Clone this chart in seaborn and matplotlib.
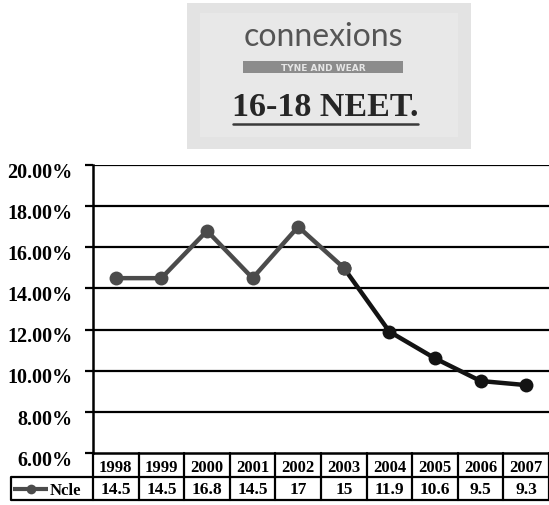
import matplotlib
matplotlib.use("Agg")
import matplotlib.pyplot as plt
import matplotlib.transforms as mtransforms
from matplotlib.patches import Rectangle
from matplotlib.lines import Line2D
import numpy as np
import pandas as pd
import seaborn as sns

# Data
years = ["1998", "1999", "2000", "2001", "2002", "2003", "2004", "2005", "2006", "2007"]
ncle = [14.5, 14.5, 16.8, 14.5, 17, 15, 11.9, 10.6, 9.5, 9.3]
value_labels = ["14.5", "14.5", "16.8", "14.5", "17", "15", "11.9", "10.6", "9.5", "9.3"]
series_name = "Ncle"
y_ticks = [6, 8, 10, 12, 14, 16, 18, 20]
split_year = "2003"

sns.set_theme(style="white")
plt.rcParams["font.family"] = ["Liberation Serif", "DejaVu Serif"]

W, H = 549, 506
fig = plt.figure(figsize=(W / 100, H / 100), dpi=100)
fig.patch.set_facecolor("white")

# overlay in pixel coordinates for the logo and the data table
over = fig.add_axes([0, 0, 1, 1], zorder=0)
over.set_xlim(0, W)
over.set_ylim(H, 0)
over.axis("off")

# main line chart
ax = fig.add_axes([93 / W, (H - 454) / H, (W - 93) / W, (454 - 166) / H], zorder=2)
ax.patch.set_alpha(0)

df = pd.DataFrame({"year": years, "value": ncle})
df["pos"] = np.arange(len(df))
k = years.index(split_year)
early = df.iloc[: k + 1]
late = df.iloc[k:]

grey = "#4b4b4b"
black = "#131313"

sns.lineplot(data=late, x="pos", y="value", color=black, lw=3.2, ax=ax,
             marker="o", markersize=10, markeredgewidth=0, zorder=3)
sns.lineplot(data=early, x="pos", y="value", color=grey, lw=3.2, ax=ax,
             marker="o", markersize=10, markeredgewidth=0, zorder=4)

ax.set_xlim(-0.5, len(years) - 0.5)
ax.set_ylim(min(y_ticks), max(y_ticks))
ax.set_yticks(y_ticks)
ax.set_yticklabels([f"{v:.2f}%" for v in y_ticks])
ax.set_xticks([])
ax.set_xlabel("")
ax.set_ylabel("")
ax.grid(False)
for v in y_ticks[1:]:
    ax.axhline(v, color="black", lw=1.6, zorder=1)
for s in ["top", "right"]:
    ax.spines[s].set_visible(False)
ax.spines["left"].set_color("black")
ax.spines["left"].set_linewidth(1.8)
ax.spines["bottom"].set_color("black")
ax.spines["bottom"].set_linewidth(1.8)
ax.tick_params(axis="y", direction="out", length=6, width=1.6, color="black",
               pad=9, labelsize=14.5, left=True)
for lab in ax.get_yticklabels():
    lab.set_fontweight("bold")
    lab.set_color("black")
    lab.set_transform(lab.get_transform() +
                      mtransforms.ScaledTranslation(0, -3 / 72, fig.dpi_scale_trans))

# data table beneath the chart
bt = mtransforms.blended_transform_factory(ax.transData, over.transData)
row_top, row_mid, row_bot = 454, 478, 501
lw_t = 1.6
over.plot([11, W], [row_mid, row_mid], color="black", lw=lw_t, solid_capstyle="butt")
over.plot([11, W], [row_bot, row_bot], color="black", lw=lw_t, solid_capstyle="butt")
over.plot([11, 11], [row_mid, row_bot], color="black", lw=lw_t)
for i in range(len(years) + 1):
    over.add_line(Line2D([i - 0.5, i - 0.5], [row_top, row_bot], color="black",
                         lw=lw_t, transform=bt))
for i, (yr, lbl) in enumerate(zip(years, value_labels)):
    over.text(i, (row_top + row_mid) / 2 + 2, yr, transform=bt, ha="center", va="center",
              fontsize=12, fontweight="bold", color="black")
    over.text(i, (row_mid + row_bot) / 2 + 1, lbl, transform=bt, ha="center", va="center",
              fontsize=12.5, fontweight="bold", color="black")

# legend key in the table
over.plot([13, 48], [490, 490], color=grey, lw=3, solid_capstyle="butt")
over.plot([31], [490], marker="o", color=grey, markersize=7, markeredgewidth=0)
over.text(50, 491, series_name, ha="left", va="center", fontsize=12,
          fontweight="bold", color="black")

# logo panel
over.add_patch(Rectangle((187, 4), 284, 146, facecolor="#e3e3e3", edgecolor="none"))
over.add_patch(Rectangle((200, 14), 258, 124, facecolor="#e8e8e8", edgecolor="none"))
over.text(323, 37, "connexions", ha="center", va="center", fontsize=23,
          family=["Lato", "DejaVu Sans"], fontweight="normal", color="#555555")
over.add_patch(Rectangle((243, 62), 160, 12, facecolor="#8c8c8c", edgecolor="none"))
over.text(323, 68.5, "TYNE AND WEAR", ha="center", va="center", fontsize=6.5,
          family=["DejaVu Sans"], fontweight="bold", color="#e6e6e6")
over.text(325, 107, "16-18 NEET.", ha="center", va="center", fontsize=24.5,
          fontweight="bold", color="#262626")
over.plot([233, 418], [125, 125], color="#3a3a3a", lw=1.8)

fig.savefig("out.png", dpi=100, facecolor="white")
